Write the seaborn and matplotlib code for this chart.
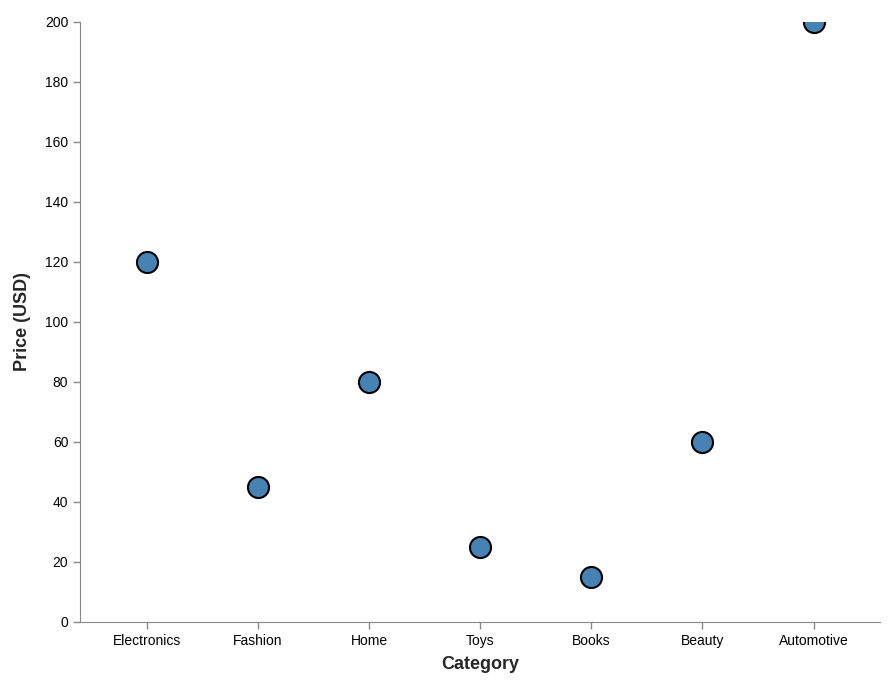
import matplotlib
matplotlib.use("Agg")
import matplotlib.pyplot as plt
import pandas as pd
import seaborn as sns

categories = ["Electronics", "Fashion", "Home", "Toys", "Books", "Beauty", "Automotive"]
prices = [120, 45, 80, 25, 15, 60, 200]

df = pd.DataFrame({"Category": categories, "Price": prices})

sns.set_style("white")
plt.rcParams["font.family"] = ["Liberation Sans", "DejaVu Sans"]

fig = plt.figure(figsize=(8.9, 6.9), dpi=100)
ax = fig.add_axes([0.09, 0.0986, 0.899, 0.87])

sns.scatterplot(data=df, x="Category", y="Price", ax=ax, s=230,
                color="#4682b4", edgecolor="black", linewidth=1.5, zorder=3)

ax.set_xlim(-0.6, 6.6)
ax.set_ylim(0, 200)
ax.set_yticks(range(0, 201, 20))
for side in ["top", "right"]:
    ax.spines[side].set_visible(False)
for side in ["left", "bottom"]:
    ax.spines[side].set_color("#888888")
ax.tick_params(axis="both", colors="#888888", labelcolor="black", labelsize=10,
               length=5, width=1, left=True, bottom=True)
ax.set_xlabel("Category", fontsize=13, fontweight="bold", labelpad=6)
ax.set_ylabel("Price (USD)", fontsize=13, fontweight="bold", labelpad=10)

fig.savefig("out.png", dpi=100)
